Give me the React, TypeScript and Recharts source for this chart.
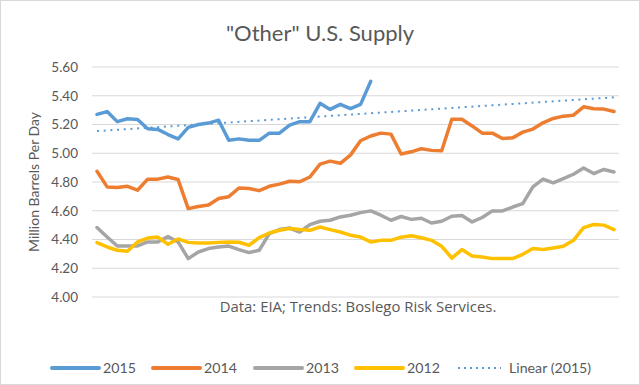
import React from 'react';
import { LineChart, Line, XAxis, YAxis, CartesianGrid } from 'recharts';

const SERIES_NAMES = ['2015', '2014', '2013', '2012'];
const TREND_NAME = 'Linear (2015)';
const TITLE = '"Other" U.S. Supply';
const Y_LABEL = 'Million Barrels Per Day';
const NOTE = 'Data: EIA; Trends: Boslego Risk Services.';
const Y_TICKS = [4.0, 4.2, 4.4, 4.6, 4.8, 5.0, 5.2, 5.4, 5.6];

const WEEKS = Array.from({ length: 52 }, (_, i) => i + 1);

const Y2015 = [5.27, 5.29, 5.22, 5.24, 5.235, 5.17, 5.166, 5.13, 5.10, 5.18, 5.20, 5.21, 5.23, 5.09, 5.10, 5.09, 5.09, 5.14, 5.14, 5.196, 5.22, 5.22, 5.347, 5.305, 5.34, 5.31, 5.34, 5.50];
const Y2014 = [4.875, 4.766, 4.762, 4.77, 4.743, 4.82, 4.82, 4.835, 4.817, 4.615, 4.63, 4.64, 4.685, 4.698, 4.758, 4.755, 4.74, 4.77, 4.785, 4.805, 4.802, 4.835, 4.924, 4.945, 4.93, 4.987, 5.087, 5.12, 5.14, 5.133, 4.995, 5.01, 5.032, 5.02, 5.017, 5.236, 5.236, 5.19, 5.14, 5.14, 5.103, 5.107, 5.147, 5.168, 5.212, 5.242, 5.258, 5.265, 5.323, 5.31, 5.307, 5.29];
const Y2013 = [4.483, 4.417, 4.355, 4.355, 4.355, 4.383, 4.383, 4.42, 4.383, 4.267, 4.313, 4.337, 4.348, 4.354, 4.33, 4.309, 4.325, 4.441, 4.469, 4.48, 4.452, 4.504, 4.527, 4.534, 4.557, 4.569, 4.587, 4.599, 4.569, 4.534, 4.56, 4.54, 4.548, 4.515, 4.527, 4.562, 4.567, 4.522, 4.553, 4.599, 4.599, 4.626, 4.65, 4.766, 4.82, 4.794, 4.824, 4.854, 4.898, 4.859, 4.887, 4.87];
const Y2012 = [4.378, 4.348, 4.325, 4.318, 4.383, 4.41, 4.417, 4.367, 4.404, 4.38, 4.376, 4.376, 4.38, 4.383, 4.381, 4.36, 4.413, 4.445, 4.464, 4.476, 4.469, 4.464, 4.487, 4.469, 4.452, 4.43, 4.417, 4.383, 4.394, 4.394, 4.416, 4.426, 4.412, 4.394, 4.353, 4.271, 4.33, 4.285, 4.278, 4.267, 4.267, 4.267, 4.297, 4.337, 4.33, 4.341, 4.353, 4.394, 4.483, 4.504, 4.5, 4.469];
// Linear trend of 2015, forecast forward: value at first and last week
const TREND_ENDS = [5.154, 5.389];

const COLORS = ['#5B9BD5', '#ED7D31', '#A5A5A5', '#FFC000'];
const TEXT = '#595959';
const FONT = 'Lato, "Open Sans", sans-serif';
const FONT2 = '"Open Sans", Lato, sans-serif';

const data = WEEKS.map((w, i) => ({
  week: w,
  s2015: i < Y2015.length ? Y2015[i] : null,
  s2014: Y2014[i],
  s2013: Y2013[i],
  s2012: Y2012[i],
  trend: i === 0 ? TREND_ENDS[0] : i === WEEKS.length - 1 ? TREND_ENDS[1] : null,
}));

const KEYS = ['s2015', 's2014', 's2013', 's2012'];
const LEGEND_X = [52, 153, 255, 356, 458];

export default function App() {
  return (
    <div style={{ position: 'absolute', left: 0, top: 0, width: 640, height: 385, background: '#fff', fontFamily: FONT }}>
      <LineChart width={640} height={385} data={data} margin={{ top: 67, right: 21, bottom: 88, left: 0 }}>
        <CartesianGrid vertical={false} stroke="#D9D9D9" strokeWidth={1} />
        <XAxis dataKey="week" hide padding={{ left: 5, right: 5 }} />
        <YAxis
          width={92}
          domain={[4, 5.6]}
          ticks={Y_TICKS}
          tickFormatter={(v: number) => v.toFixed(2)}
          axisLine={false}
          tickLine={false}
          tickSize={0}
          tickMargin={14}
          tick={{ fill: TEXT, fontSize: 13.5, fontFamily: FONT }}
        />
        {KEYS.map((k, i) => (
          <Line
            key={k}
            type="linear"
            dataKey={k}
            stroke={COLORS[i]}
            strokeWidth={3.5}
            strokeLinejoin="round"
            strokeLinecap="round"
            dot={false}
            activeDot={false}
            isAnimationActive={false}
          />
        ))}
        <Line
          type="linear"
          dataKey="trend"
          stroke={COLORS[0]}
          strokeWidth={2}
          strokeDasharray="2 4.7"
          dot={false}
          activeDot={false}
          connectNulls
          isAnimationActive={false}
        />
      </LineChart>
      <svg width={640} height={385} style={{ position: 'absolute', left: 0, top: 0, pointerEvents: 'none' }}>
        <text x={320} y={41} textAnchor="middle" fontSize={22} fill={TEXT} fontFamily={FONT}>{TITLE}</text>
        <text x={33} y={182} transform="rotate(-90 33 182)" textAnchor="middle" dominantBaseline="central" fontSize={14} fill={TEXT} fontFamily={FONT}>{Y_LABEL}</text>
        <text x={358} y={312} textAnchor="middle" fontSize={14.9} fill={TEXT} fontFamily={FONT2}>{NOTE}</text>
        {SERIES_NAMES.map((n, i) => (
          <g key={n}>
            <line x1={LEGEND_X[i]} x2={LEGEND_X[i] + 47} y1={368} y2={368} stroke={COLORS[i]} strokeWidth={4} strokeLinecap="round" />
            <text x={LEGEND_X[i] + 51} y={373} fontSize={14.2} fill={TEXT} fontFamily={FONT}>{n}</text>
          </g>
        ))}
        <line x1={LEGEND_X[4]} x2={LEGEND_X[4] + 43} y1={368} y2={368} stroke={COLORS[0]} strokeWidth={2} strokeDasharray="2 4" />
        <text x={LEGEND_X[4] + 51} y={373} fontSize={14.2} fill={TEXT} fontFamily={FONT}>{TREND_NAME}</text>
      </svg>
      <div style={{ position: 'absolute', left: 0, top: 0, width: 640, height: 385, boxSizing: 'border-box', border: '1px solid #D9D9D9', pointerEvents: 'none' }} />
    </div>
  );
}
